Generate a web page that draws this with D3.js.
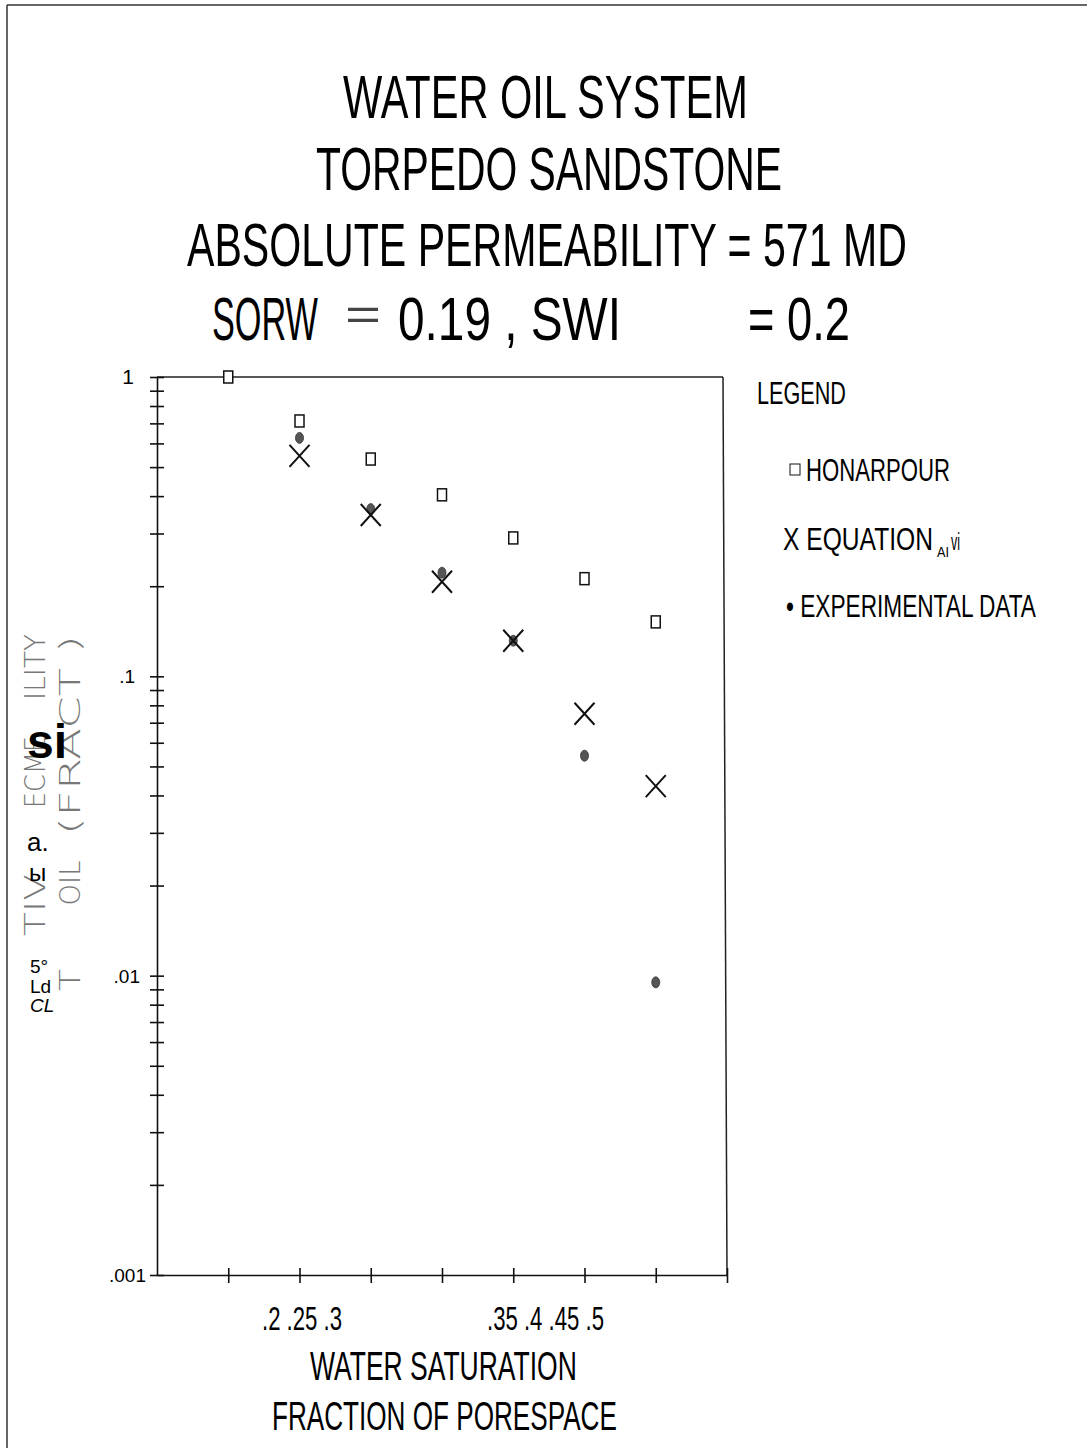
<!DOCTYPE html>
<html>
<head>
<meta charset="utf-8">
<script src="https://d3js.org/d3.v7.min.js"></script>
<style>
  body { margin: 0; background: #fff; }
  svg { display: block; }
  text { font-family: "Liberation Sans Narrow", "Liberation Sans", Arial, sans-serif; fill: #000; }
</style>
</head>
<body>
<div id="chart"></div>
<script>
// water saturation (fraction of porespace)
var sw = [0.2, 0.25, 0.3, 0.35, 0.4, 0.45, 0.5];
// relative permeability to oil
var honarpour = [1.0, 0.713, 0.532, 0.404, 0.290, 0.212, 0.152];
var equation = [null, 0.545, 0.346, 0.207, 0.1315, 0.075, 0.043];
var experimental = [null, 0.626, 0.362, 0.222, 0.1315, 0.0543, 0.0095];

var xTicks = [0.2, 0.25, 0.3, 0.35, 0.4, 0.45, 0.5, 0.55];
var yDecades = [1, 0.1, 0.01, 0.001];
var yLabels = ["1", ".1", ".01", ".001"];

var W = 1087, H = 1448;
var svg = d3.select("#chart").append("svg").attr("width", W).attr("height", H);

// page border from the scan
svg.append("line").attr("x1", 7).attr("x2", 7).attr("y1", 5).attr("y2", H)
  .attr("stroke", "#333").attr("stroke-width", 1.5);
svg.append("line").attr("x1", 7).attr("x2", W).attr("y1", 5).attr("y2", 5)
  .attr("stroke", "#333").attr("stroke-width", 1.5);

// helper: text squeezed horizontally to a given width
function label(txt, x, y, size, width) {
  var t = svg.append("text").attr("font-size", size).text(txt);
  var sx = 1;
  if (width) sx = width / t.node().getComputedTextLength();
  t.attr("transform", "translate(" + x + "," + y + ") scale(" + sx + ",1)");
  return t;
}

// titles
label("WATER OIL SYSTEM", 343, 118, 62, 405);
label("TORPEDO SANDSTONE", 316, 190, 62, 466);
label("ABSOLUTE PERMEABILITY = 571 MD", 187, 266, 62, 720);
label("SORW", 212, 340, 62, 106);
label("=", 345, 330, 44, 36).style("fill", "#444");
label("0.19 , SWI", 398, 340, 62, 223);
label("= 0.2", 748, 340, 62, 102);

var x = d3.scaleLinear().domain([0.15, 0.55]).range([157, 727]);
var y = d3.scaleLog().domain([0.001, 1]).range([1275, 377]);

var g = svg.append("g");

// frame top and right
g.append("line").attr("x1", x(0.15)).attr("x2", x(0.55) - 4).attr("y1", y(1)).attr("y2", y(1))
  .attr("stroke", "#222").attr("stroke-width", 1.5);
g.append("line").attr("x1", x(0.55) - 4).attr("x2", x(0.55)).attr("y1", y(1)).attr("y2", y(0.001))
  .attr("stroke", "#222").attr("stroke-width", 1.5);

// y axis, log with minor ticks
var minor = [];
[0.001, 0.01, 0.1].forEach(function (d) {
  for (var k = 1; k <= 9; k++) minor.push(d * k);
});
minor.push(1);
var yAxis = g.append("g").attr("transform", "translate(" + x(0.15) + ",0)")
  .call(d3.axisLeft(y).tickValues(minor).tickFormat("").tickSizeOuter(0));
yAxis.selectAll(".tick line").attr("x1", -7).attr("x2", 7);
yAxis.selectAll("line, path").attr("stroke", "#111").attr("stroke-width", 1.6);

var yOff = [23, 22, 17, 11];
yDecades.forEach(function (d, i) {
  g.append("text").attr("x", x(0.15) - yOff[i]).attr("y", y(d) + 7)
    .attr("text-anchor", "end").attr("font-size", i === 0 ? 21 : 19)
    .style("font-family", "'Liberation Sans', Arial, sans-serif")
    .text(yLabels[i]);
});

// x axis, ticks crossing the line
var xAxis = g.append("g").attr("transform", "translate(0," + y(0.001) + ")")
  .call(d3.axisBottom(x).tickValues(xTicks).tickFormat("").tickSizeOuter(0));
xAxis.selectAll(".tick line").attr("y1", -7).attr("y2", 8);
xAxis.selectAll("line, path").attr("stroke", "#111").attr("stroke-width", 1.6);

// x tick labels as they appear on the scan
label(".2 .25 .3", 262, 1330, 34, 80);
label(".35 .4 .45 .5", 487, 1330, 34, 117);

// axis titles
label("WATER SATURATION", 310, 1380, 40, 267);
label("FRACTION OF PORESPACE", 272, 1430, 40, 345);

// y axis title fragments (faint, rotated) and scan overlays
function vlabel(txt, cx, cy, size, len) {
  var t = svg.append("text").attr("text-anchor", "middle").attr("font-size", size)
    .style("fill", "#777").style("font-family", "'DejaVu Sans', sans-serif").style("font-weight", 200)
    .text(txt);
  var s = len / t.node().getComputedTextLength();
  t.attr("transform", "translate(" + cx + "," + cy + ") rotate(-90) scale(" + s + ",1)");
}
vlabel("TIV", 45, 905, 28, 62);
vlabel("ECME", 45, 772, 28, 72);
vlabel("ILITY", 45, 667, 28, 66);
vlabel("T", 80, 980, 28, 22);
vlabel("OIL", 80, 883, 28, 45);
vlabel("(FRACT  )", 80, 735, 28, 200);

var sans = "'Liberation Sans', Arial, sans-serif";
label("si", 27, 758, 48).style("font-weight", "bold").style("font-family", sans);
label("a.", 27, 851, 26).style("font-family", sans);
label("ы", 29, 881, 24).style("font-family", sans);
label("5°", 30, 973, 19).style("font-family", sans);
label("Ld", 30, 993, 19).style("font-family", sans);
label("CL", 30, 1012, 19).style("font-style", "italic").style("font-family", sans);

// markers
var honData = sw.map(function (d, i) { return { x: d, y: honarpour[i] }; });
var eqData = sw.map(function (d, i) { return { x: d, y: equation[i] }; }).filter(function (d) { return d.y != null; });
var expData = sw.map(function (d, i) { return { x: d, y: experimental[i] }; }).filter(function (d) { return d.y != null; });

g.selectAll(".exp").data(expData).enter().append("ellipse")
  .attr("cx", function (d) { return x(d.x); })
  .attr("cy", function (d) { return y(d.y); })
  .attr("rx", 4).attr("ry", 5.5)
  .attr("fill", "#555").attr("stroke", "#333").attr("stroke-width", 0.8);

g.selectAll(".eq").data(eqData).enter().append("path")
  .attr("transform", function (d) { return "translate(" + x(d.x) + "," + y(d.y) + ")"; })
  .attr("d", "M-10,-11L10,11M10,-11L-10,11")
  .attr("stroke", "#111").attr("stroke-width", 2).attr("fill", "none");

g.selectAll(".hon").data(honData).enter().append("rect")
  .attr("x", function (d) { return x(d.x) - 4.5; })
  .attr("y", function (d) { return y(d.y) - 6; })
  .attr("width", 9).attr("height", 12)
  .attr("fill", "#fff").attr("stroke", "#111").attr("stroke-width", 1.5);

// legend
label("LEGEND", 757, 404, 32, 89);
svg.append("rect").attr("x", 790).attr("y", 464).attr("width", 10).attr("height", 11)
  .attr("fill", "none").attr("stroke", "#111").attr("stroke-width", 1);
label("HONARPOUR", 806, 481, 32, 144);
label("X EQUATION", 783, 550, 32, 150);
label("AI", 937, 557, 14, 12);
label("vi", 951, 550, 24, 9);
label("• EXPERIMENTAL DATA", 786, 617, 32, 250);
</script>
</body>
</html>
